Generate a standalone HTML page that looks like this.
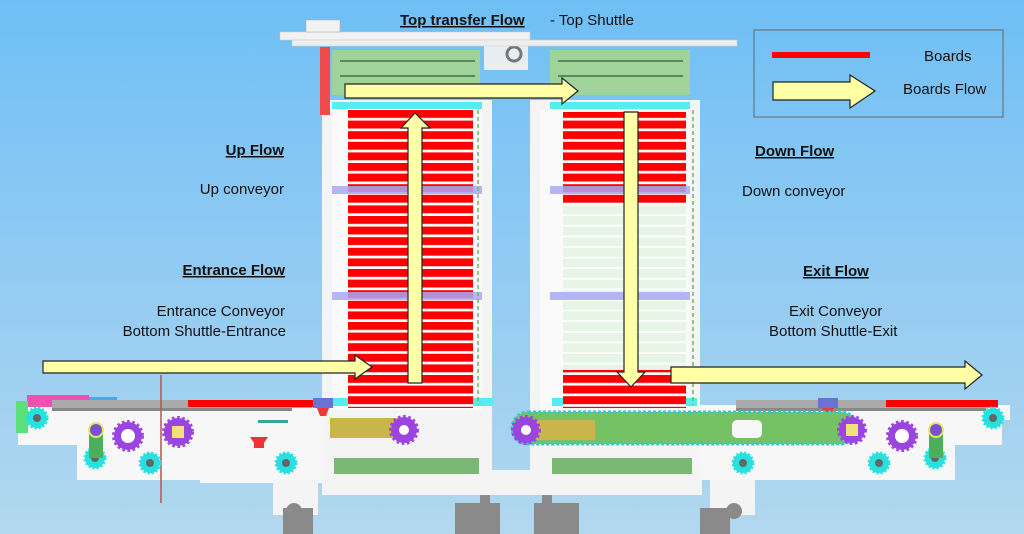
<!DOCTYPE html>
<html><head><meta charset="utf-8"><style>
html,body{margin:0;padding:0;width:1024px;height:534px;overflow:hidden}
svg{display:block}
text{font-family:"Liberation Sans",Arial,sans-serif;font-size:15px;fill:#111}
.b{font-weight:bold;text-decoration:underline}
</style></head><body>
<svg width="1024" height="534" viewBox="0 0 1024 534" xmlns="http://www.w3.org/2000/svg">
<defs>
<linearGradient id="bg" x1="0" y1="0" x2="0" y2="1">
<stop offset="0" stop-color="#6fbff5"/><stop offset="0.6" stop-color="#98cdf2"/><stop offset="1" stop-color="#b2d8ee"/>
</linearGradient>
<pattern id="rs" width="10" height="10.6" patternUnits="userSpaceOnUse" y="110">
<rect width="10" height="8" fill="#f00"/><rect y="8" width="10" height="2.6" fill="#fff"/>
</pattern>
<pattern id="gs" width="10" height="10.6" patternUnits="userSpaceOnUse" y="110">
<rect width="10" height="9" fill="#e6f5e6"/><rect y="9" width="10" height="1.6" fill="#fff"/>
</pattern>
</defs>
<rect width="1024" height="534" fill="url(#bg)"/>

<path d="M18 405 H330 V483 H200 V480 H77 V445 H18 Z" fill="#f7f7f7"/>
<path d="M700 405 H1010 V420 H1002 V445 H955 V480 H700 Z" fill="#f7f7f7"/>
<rect x="322" y="470" width="380" height="25" fill="#f4f4f4"/>
<rect x="273" y="480" width="45" height="35" fill="#f4f4f4"/>
<rect x="710" y="480" width="45" height="35" fill="#f4f4f4"/>
<g fill="#8a8a8a">
<rect x="283" y="508" width="30" height="26"/><circle cx="294" cy="511" r="8"/>
<rect x="455" y="503" width="45" height="31"/><rect x="480" y="495" width="10" height="20"/>
<rect x="534" y="503" width="45" height="31"/><rect x="542" y="495" width="10" height="20"/>
<rect x="700" y="508" width="30" height="26"/><circle cx="734" cy="511" r="8"/>
</g>

<rect x="322" y="100" width="170" height="395" fill="#f4f4f4"/>
<rect x="530" y="100" width="170" height="395" fill="#f4f4f4"/>
<rect x="332" y="110" width="150" height="300" fill="#fafafa"/>
<rect x="540" y="110" width="150" height="300" fill="#fafafa"/>
<rect x="332" y="50" width="148" height="45" fill="#9fd39a"/>
<rect x="550" y="50" width="140" height="45" fill="#9fd39a"/>
<g fill="#5a8a5a"><rect x="340" y="60" width="135" height="2"/><rect x="340" y="75" width="135" height="2"/><rect x="558" y="60" width="125" height="2"/><rect x="558" y="75" width="125" height="2"/></g>
<rect x="484" y="45" width="44" height="25" fill="#e6eef4"/>
<circle cx="514" cy="54" r="7" fill="none" stroke="#777" stroke-width="3"/>
<rect x="280" y="32" width="250" height="8" fill="#f2f2f2" stroke="#ccc" stroke-width="0.5"/>
<rect x="292" y="40" width="445" height="6" fill="#eee" stroke="#ccc" stroke-width="0.5"/>
<rect x="306" y="20" width="34" height="12" fill="#f2f2f2" stroke="#aaa" stroke-width="0.5"/>
<rect x="320" y="47" width="10" height="68" fill="#f04a4a"/>
<rect x="332" y="102" width="150" height="7" fill="#55eef0"/>
<rect x="550" y="102" width="140" height="7" fill="#55eef0"/>
<rect x="318" y="398" width="175" height="8" fill="#55eef0"/>
<rect x="552" y="398" width="145" height="8" fill="#55eef0"/>
<rect x="348" y="110" width="125" height="298" fill="url(#rs)"/>
<rect x="563" y="112" width="123" height="258" fill="url(#gs)"/>
<rect x="563" y="112" width="123" height="93" fill="url(#rs)"/>
<rect x="563" y="370" width="123" height="38" fill="url(#rs)"/>
<g fill="#a9a8f2" opacity="0.85">
<rect x="332" y="186" width="150" height="8"/><rect x="332" y="292" width="150" height="8"/>
<rect x="550" y="186" width="140" height="8"/><rect x="550" y="292" width="140" height="8"/>
</g>
<g stroke="#6db36d" stroke-dasharray="4 3" stroke-width="1.5"><line x1="478" y1="110" x2="478" y2="405"/><line x1="693" y1="110" x2="693" y2="405"/></g>
<rect x="334" y="458" width="145" height="16" fill="#7bb873"/>
<rect x="552" y="458" width="140" height="16" fill="#7bb873"/>

<rect x="27" y="395" width="62" height="12" fill="#f24fb0"/>
<rect x="89" y="397" width="28" height="5" fill="#4da6e6"/>
<rect x="52" y="400" width="260" height="8" fill="#aaa"/>
<rect x="188" y="400" width="125" height="7" fill="#f00"/>
<rect x="52" y="408" width="240" height="3" fill="#888"/>
<rect x="16" y="401" width="12" height="32" fill="#5ce07a"/>
<rect x="736" y="400" width="262" height="8" fill="#aaa"/>
<rect x="886" y="400" width="112" height="7" fill="#f00"/>
<rect x="736" y="408" width="250" height="3" fill="#888"/>
<rect x="313" y="398" width="20" height="10" fill="#6a72d4"/><path d="M317 408h12l-3 8h-6z" fill="#f03a3a"/>
<rect x="818" y="398" width="20" height="10" fill="#6a72d4"/><path d="M822 408h12l-3 8h-6z" fill="#f03a3a"/>
<line x1="161" y1="375" x2="161" y2="503" stroke="#c05050" stroke-width="1.5"/>

<rect x="512" y="412" width="345" height="32" rx="16" fill="#74c264" stroke="#3cc" stroke-width="3" stroke-dasharray="3 2"/>
<rect x="525" y="420" width="70" height="20" fill="#c9b64a"/>
<rect x="732" y="420" width="30" height="18" rx="5" fill="#f7f7f7"/>
<rect x="330" y="418" width="80" height="20" fill="#c9b64a"/>
<rect x="258" y="420" width="30" height="3" fill="#3a9"/>
<path d="M250 437h18l-4 6v5h-10v-5z" fill="#e33"/>

<g>
<g fill="#9b45e0" stroke="#9b45e0" stroke-width="4" stroke-dasharray="2.5 2.5">
<circle cx="128" cy="436" r="14"/><circle cx="178" cy="432" r="14"/><circle cx="404" cy="430" r="13"/>
<circle cx="526" cy="430" r="13"/><circle cx="852" cy="430" r="13"/><circle cx="902" cy="436" r="14"/>
</g>
<g fill="#fff">
<circle cx="128" cy="436" r="7"/><rect x="172" y="426" width="12" height="12" fill="#f2e07a"/><circle cx="404" cy="430" r="5"/>
<circle cx="526" cy="430" r="5"/><rect x="846" y="424" width="12" height="12" fill="#f2e07a"/><circle cx="902" cy="436" r="7"/>
</g>
<g fill="#27e0e0" stroke="#27e0e0" stroke-width="3" stroke-dasharray="2 2">
<circle cx="37" cy="418" r="10"/><circle cx="95" cy="458" r="10"/><circle cx="150" cy="463" r="10"/>
<circle cx="286" cy="463" r="10"/><circle cx="743" cy="463" r="10"/><circle cx="879" cy="463" r="10"/>
<circle cx="935" cy="458" r="10"/><circle cx="993" cy="418" r="10"/>
</g>
<g fill="#666">
<circle cx="37" cy="418" r="4"/><circle cx="95" cy="458" r="4"/><circle cx="150" cy="463" r="4"/>
<circle cx="286" cy="463" r="4"/><circle cx="743" cy="463" r="4"/><circle cx="879" cy="463" r="4"/>
<circle cx="935" cy="458" r="4"/><circle cx="993" cy="418" r="4"/>
</g>
</g>
<rect x="89" y="430" width="14" height="28" fill="#4caf5a"/><rect x="929" y="430" width="14" height="28" fill="#4caf5a"/>
<circle cx="96" cy="430" r="7" fill="#7b50d0" stroke="#e0ea60" stroke-width="2"/>
<circle cx="936" cy="430" r="7" fill="#7b50d0" stroke="#e0ea60" stroke-width="2"/>

<g fill="#ffffa6" stroke="#222" stroke-width="1.2">
<path d="M43 361H355V355L372 367L355 379V373H43Z"/>
<path d="M408 383V128H401L415 113L430 128H422V383Z"/>
<path d="M345 84H562V78L578 91L562 104V98H345Z"/>
<path d="M624 112V372H617L631 387L645 372H638V112Z"/>
<path d="M671 367H965V361L982 375L965 389V383H671Z"/>
</g>

<rect x="754" y="30" width="249" height="87" fill="none" stroke="#666" stroke-width="1"/>
<rect x="772" y="52" width="98" height="6" fill="#f00"/>
<path d="M773 82H850V75L875 91L850 108V100H773Z" fill="#ffffa6" stroke="#222" stroke-width="1.2"/>
<text x="924" y="61">Boards</text>
<text x="903" y="94">Boards Flow</text>

<text x="400" y="25" class="b">Top transfer  Flow </text><text x="550" y="25"> - Top Shuttle</text>
<text x="284" y="155" text-anchor="end" class="b">Up Flow</text>
<text x="284" y="194" text-anchor="end">Up conveyor</text>
<text x="285" y="275" text-anchor="end" class="b">Entrance Flow</text>
<text x="285" y="316" text-anchor="end">Entrance Conveyor</text>
<text x="286" y="336" text-anchor="end">Bottom Shuttle-Entrance</text>
<text x="755" y="156" class="b">Down Flow</text>
<text x="742" y="196">Down conveyor</text>
<text x="803" y="276" class="b">Exit Flow</text>
<text x="789" y="316">Exit Conveyor</text>
<text x="769" y="336">Bottom Shuttle-Exit</text>
</svg>
</body></html>
